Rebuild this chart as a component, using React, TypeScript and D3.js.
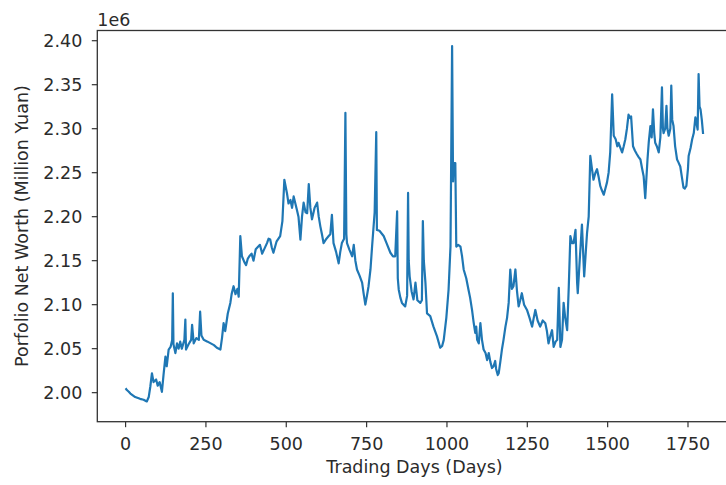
import React from "react";
import * as d3 from "d3";

const days: number[] = [
  0, 4, 10, 15, 30, 45, 56, 66, 72, 77, 82, 87, 95, 100, 106, 113, 118, 124, 128, 134, 140, 145, 147, 149, 155, 160, 165, 170, 175, 183, 186, 188, 196, 204, 207, 212, 220, 228, 232, 236, 243, 255, 265, 275, 284, 295, 300, 305, 310, 318, 326, 330, 336, 342, 348, 352, 357, 362, 370, 375, 380, 385, 392, 398, 405, 410, 418, 425, 430, 440, 445, 450, 455, 460, 470, 481, 488, 494, 502, 507, 513, 518, 523, 533, 538, 544, 549, 554, 560, 565, 570, 575, 580, 588, 596, 601, 606, 611, 616, 625, 632, 637, 642, 647, 655, 663, 668, 673, 680, 684, 687, 689, 697, 705, 710, 715, 720, 728, 736, 741, 746, 751, 756, 762, 767, 775, 780, 782, 790, 803, 812, 824, 832, 839, 845, 847, 850, 855, 860, 870, 876, 879, 881, 884, 890, 896, 902, 908, 917, 922, 925, 928, 933, 938, 948, 958, 969, 979, 985, 990, 998, 1005, 1011, 1016, 1019, 1021, 1026, 1029, 1035, 1042, 1047, 1052, 1060, 1067, 1072, 1078, 1083, 1088, 1091, 1094, 1099, 1104, 1109, 1114, 1120, 1125, 1130, 1135, 1140, 1145, 1150, 1153, 1158, 1161, 1166, 1171, 1176, 1182, 1187, 1192, 1197, 1202, 1207, 1213, 1218, 1223, 1228, 1233, 1240, 1249, 1257, 1265, 1270, 1275, 1282, 1290, 1298, 1306, 1311, 1316, 1322, 1327, 1332, 1338, 1343, 1348, 1353, 1358, 1363, 1368, 1374, 1379, 1384, 1389, 1394, 1400, 1405, 1407, 1413, 1420, 1427, 1432, 1436, 1441, 1446, 1451, 1456, 1462, 1467, 1472, 1477, 1482, 1488, 1493, 1498, 1503, 1508, 1514, 1519, 1525, 1530, 1534, 1540, 1545, 1550, 1555, 1560, 1565, 1570, 1573, 1579, 1585, 1591, 1596, 1602, 1607, 1612, 1617, 1620, 1624, 1628, 1633, 1637, 1641, 1645, 1648, 1653, 1659, 1664, 1669, 1672, 1674, 1679, 1683, 1686, 1690, 1695, 1698, 1701, 1705, 1710, 1716, 1720, 1726, 1731, 1736, 1740, 1745, 1750, 1752, 1758, 1763, 1768, 1773, 1777, 1780, 1783, 1786, 1789, 1793, 1797,
];

const netWorthMillions: number[] = [
  2.005, 2.003, 2.001, 1.999, 1.995, 1.993, 1.992, 1.990, 1.995, 2.007, 2.022, 2.012, 2.015, 2.008, 2.012, 2.001, 2.020, 2.041, 2.030, 2.049, 2.052, 2.060, 2.113, 2.055, 2.045, 2.056, 2.050, 2.058, 2.050, 2.060, 2.083, 2.049, 2.055, 2.060, 2.077, 2.056, 2.062, 2.060, 2.092, 2.065, 2.060, 2.058, 2.056, 2.054, 2.051, 2.049, 2.062, 2.079, 2.070, 2.090, 2.102, 2.112, 2.121, 2.112, 2.118, 2.109, 2.178, 2.155, 2.148, 2.145, 2.152, 2.155, 2.158, 2.150, 2.163, 2.165, 2.168, 2.158, 2.162, 2.170, 2.175, 2.174, 2.165, 2.159, 2.172, 2.178, 2.195, 2.242, 2.227, 2.215, 2.219, 2.210, 2.223, 2.208, 2.200, 2.174, 2.200, 2.216, 2.205, 2.204, 2.237, 2.210, 2.197, 2.210, 2.216, 2.200, 2.189, 2.180, 2.170, 2.175, 2.178, 2.180, 2.202, 2.170, 2.160, 2.147, 2.160, 2.170, 2.175, 2.318, 2.180, 2.170, 2.162, 2.155, 2.168, 2.150, 2.140, 2.133, 2.125, 2.112, 2.100, 2.110, 2.121, 2.140, 2.166, 2.205, 2.296, 2.185, 2.184, 2.178, 2.170, 2.159, 2.155, 2.155, 2.206, 2.130, 2.117, 2.108, 2.102, 2.098, 2.110, 2.227, 2.150, 2.132, 2.115, 2.106, 2.125, 2.105, 2.102, 2.105, 2.195, 2.150, 2.125, 2.090, 2.087, 2.075, 2.064, 2.051, 2.053, 2.060, 2.085, 2.117, 2.166, 2.394, 2.240, 2.261, 2.261, 2.166, 2.168, 2.166, 2.155, 2.140, 2.130, 2.117, 2.108, 2.094, 2.080, 2.068, 2.075, 2.060, 2.056, 2.079, 2.060, 2.049, 2.045, 2.037, 2.045, 2.035, 2.028, 2.030, 2.036, 2.027, 2.020, 2.022, 2.035, 2.049, 2.060, 2.075, 2.085, 2.102, 2.140, 2.118, 2.121, 2.140, 2.115, 2.098, 2.105, 2.113, 2.100, 2.094, 2.085, 2.075, 2.085, 2.094, 2.082, 2.075, 2.082, 2.079, 2.070, 2.056, 2.065, 2.071, 2.052, 2.058, 2.060, 2.119, 2.052, 2.060, 2.102, 2.085, 2.071, 2.120, 2.178, 2.170, 2.170, 2.185, 2.125, 2.113, 2.150, 2.191, 2.132, 2.160, 2.182, 2.200, 2.269, 2.255, 2.242, 2.250, 2.254, 2.245, 2.235, 2.230, 2.225, 2.232, 2.239, 2.250, 2.273, 2.339, 2.292, 2.288, 2.280, 2.284, 2.278, 2.273, 2.280, 2.288, 2.300, 2.316, 2.312, 2.314, 2.280, 2.275, 2.271, 2.268, 2.265, 2.255, 2.246, 2.221, 2.240, 2.265, 2.285, 2.303, 2.290, 2.322, 2.295, 2.284, 2.280, 2.273, 2.290, 2.347, 2.300, 2.295, 2.300, 2.326, 2.300, 2.292, 2.300, 2.349, 2.310, 2.303, 2.280, 2.265, 2.262, 2.257, 2.245, 2.233, 2.232, 2.235, 2.255, 2.269, 2.278, 2.288, 2.295, 2.313, 2.305, 2.299, 2.362, 2.325, 2.322, 2.310, 2.294,
];

const xTicks: number[] = [0, 250, 500, 750, 1000, 1250, 1500, 1750];
const yTicks: number[] = [2.0e6, 2.05e6, 2.1e6, 2.15e6, 2.2e6, 2.25e6, 2.3e6, 2.35e6, 2.4e6];

const W = 726;
const H = 485;
const left = 97.3;
const right = 731.7;
const top = 30.5;
const bottom = 421.7;

export default function App() {
  const x = d3.scaleLinear().domain([-88, 1886]).range([left, right]);
  const y = d3.scaleLinear().domain([1.967e6, 2.4116e6]).range([bottom, top]);
  const pts: [number, number][] = days.map((d, i) => [d, netWorthMillions[i] * 1e6]);
  const line = d3
    .line<[number, number]>()
    .x((p) => x(p[0]))
    .y((p) => y(p[1]));
  const font = "'DejaVu Sans', sans-serif";
  const fs = 17.5;
  const txt = "#2b2b2b";
  return (
    <svg
      width={W}
      height={H}
      style={{ position: "absolute", left: 0, top: 0, background: "#fff" }}
    >
      <rect x={0} y={0} width={W} height={H} fill="#fff" />
      <path d={line(pts) || ""} fill="none" stroke="#1f77b4" strokeWidth={2.2} strokeLinejoin="round" />
      <rect
        x={left}
        y={top}
        width={right - left}
        height={bottom - top}
        fill="none"
        stroke="#333"
        strokeWidth={1.3}
      />
      {xTicks.map((t) => (
        <g key={"x" + t}>
          <line x1={x(t)} x2={x(t)} y1={bottom} y2={bottom + 5.5} stroke="#333" strokeWidth={1.2} />
          <text
            x={x(t)}
            y={bottom + 28}
            textAnchor="middle"
            fontFamily={font}
            fontSize={fs}
            fill={txt}
          >
            {t}
          </text>
        </g>
      ))}
      {yTicks.map((t) => (
        <g key={"y" + t}>
          <line x1={left - 5.5} x2={left} y1={y(t)} y2={y(t)} stroke="#333" strokeWidth={1.2} />
          <text
            x={left - 15}
            y={y(t)}
            dy="0.36em"
            textAnchor="end"
            fontFamily={font}
            fontSize={fs}
            fill={txt}
          >
            {(t / 1e6).toFixed(2)}
          </text>
        </g>
      ))}
      <text x={left} y={26} fontFamily={font} fontSize={fs} fill={txt}>
        1e6
      </text>
      <text
        x={(left + right) / 2}
        y={473}
        textAnchor="middle"
        fontFamily={font}
        fontSize={fs}
        fill={txt}
      >
        Trading Days (Days)
      </text>
      <text
        transform={`translate(28, ${(top + bottom) / 2}) rotate(-90)`}
        textAnchor="middle"
        fontFamily={font}
        fontSize={fs}
        fill={txt}
      >
        Porfolio Net Worth (Million Yuan)
      </text>
    </svg>
  );
}
